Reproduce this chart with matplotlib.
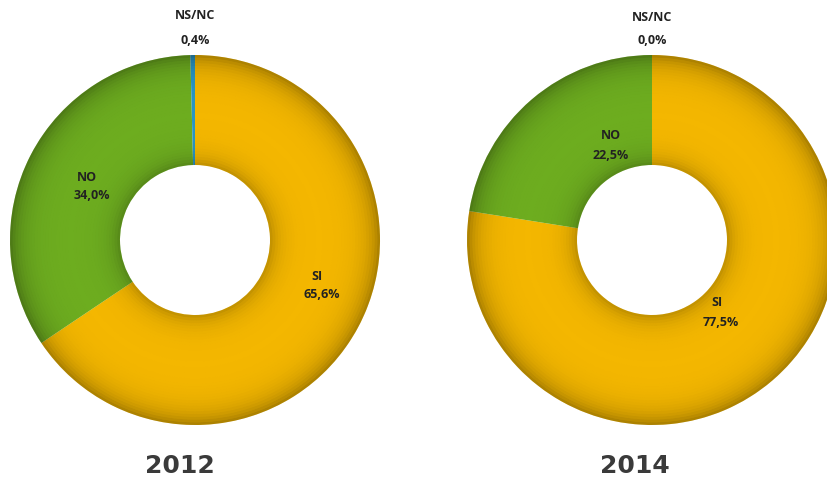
import numpy as np
import matplotlib.pyplot as plt
from matplotlib.patches import Wedge

plt.rcParams['font.family'] = ['Open Sans', 'DejaVu Sans']

# data
labels = ['SI', 'NO', 'NS/NC']
years = ['2012', '2014']
vals_2012 = [65.6, 34.0, 0.4]
vals_2014 = [77.5, 22.5, 0.0]
colors = ['#F5B800', '#6EAE20', '#2A97C6']

fig = plt.figure(figsize=(8.27, 4.79), dpi=100)
ax = fig.add_axes([0, 0, 1, 1])

R_OUT = 185
R_IN = 75

def shade(cx, cy):
    # darker rim on both edges of the ring
    n = 40
    rs = np.linspace(R_IN, R_OUT, n + 1)
    for i in range(n):
        t = (rs[i] + rs[i + 1]) / 2
        u = (t - R_IN) / (R_OUT - R_IN)
        a = 0.32 * np.exp(-(1 - u) / 0.12) + 0.22 * np.exp(-u / 0.10)
        ax.add_patch(Wedge((cx, cy), rs[i + 1], 0, 360, width=rs[i + 1] - rs[i],
                           facecolor='black', alpha=a, edgecolor='none'))

def donut(vals, cx, cy):
    ax.pie(vals, colors=colors, startangle=90, counterclock=False,
           center=(cx, cy), radius=R_OUT, frame=True,
           wedgeprops=dict(width=R_OUT - R_IN, edgecolor='none'))
    shade(cx, cy)

donut(vals_2012, 195, 239)
donut(vals_2014, 652, 239)
ax.set_xlim(0, 827)
ax.set_ylim(0, 479)
ax.set_aspect('equal')
ax.axis('off')

def fmt(v):
    return ('%.1f%%' % v).replace('.', ',')

lab_kw = dict(ha='center', va='center', fontsize=9, fontweight='bold', color='#222222')

# 2012 labels
ax.text(195, 479 - 15, labels[2], **lab_kw)
ax.text(195, 479 - 40, fmt(vals_2012[2]), **lab_kw)
ax.text(87, 479 - 177, labels[1], **lab_kw)
ax.text(92, 479 - 195, fmt(vals_2012[1]), **lab_kw)
ax.text(317, 479 - 277, labels[0], **lab_kw)
ax.text(322, 479 - 295, fmt(vals_2012[0]), **lab_kw)

# 2014 labels
ax.text(652, 479 - 17, labels[2], **lab_kw)
ax.text(652, 479 - 40, fmt(vals_2014[2]), **lab_kw)
ax.text(611, 479 - 135, labels[1], **lab_kw)
ax.text(611, 479 - 155, fmt(vals_2014[1]), **lab_kw)
ax.text(717, 479 - 303, labels[0], **lab_kw)
ax.text(721, 479 - 323, fmt(vals_2014[0]), **lab_kw)

yr_kw = dict(ha='center', va='center', fontsize=18, fontweight='heavy',
             color='#3a3a3a', family=['DejaVu Sans'])
ax.text(180, 479 - 466, years[0], **yr_kw)
ax.text(635, 479 - 466, years[1], **yr_kw)

fig.savefig('out.png', dpi=100)
